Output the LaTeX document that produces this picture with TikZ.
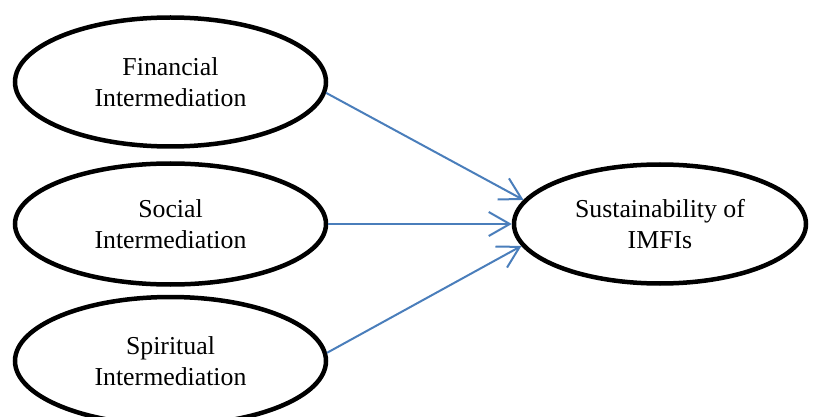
\documentclass[tikz,border=0pt]{standalone}
\usepackage{fontspec}
\setmainfont{Liberation Serif}
\usetikzlibrary{shapes.geometric,arrows.meta}
\definecolor{arrowblue}{RGB}{74,126,187}
\tikzset{
  oval/.style={ellipse, draw=black, line width=4.5pt, inner sep=0pt, align=center,
    font=\fontsize{25.8}{31.5}\selectfont},
  link/.style={draw=arrowblue, line width=2pt,
    -{Straight Barb[length=21pt,width=24pt,line width=2pt]}}
}
\begin{document}
\begin{tikzpicture}[x=1pt,y=-1pt]
\useasboundingbox (0,0) rectangle (817,417);
\clip (0,0) rectangle (817,417);
\node[oval, minimum width=311pt, minimum height=129pt] (fin) at (170.5,82) {Financial\\Intermediation};
\node[oval, minimum width=311pt, minimum height=121pt] (soc) at (170.5,224) {Social\\Intermediation};
\node[oval, minimum width=311pt, minimum height=128pt] (spi) at (170.5,361) {Spiritual\\Intermediation};
\node[oval, minimum width=292pt, minimum height=119pt] (sus) at (660,224) {Sustainability of\\IMFIs};
\draw[link] (fin.-4) -- (sus.170);
\draw[link] (soc.east) -- (sus.west);
\draw[link] (spi.3) -- (sus.189);
\end{tikzpicture}
\end{document}
